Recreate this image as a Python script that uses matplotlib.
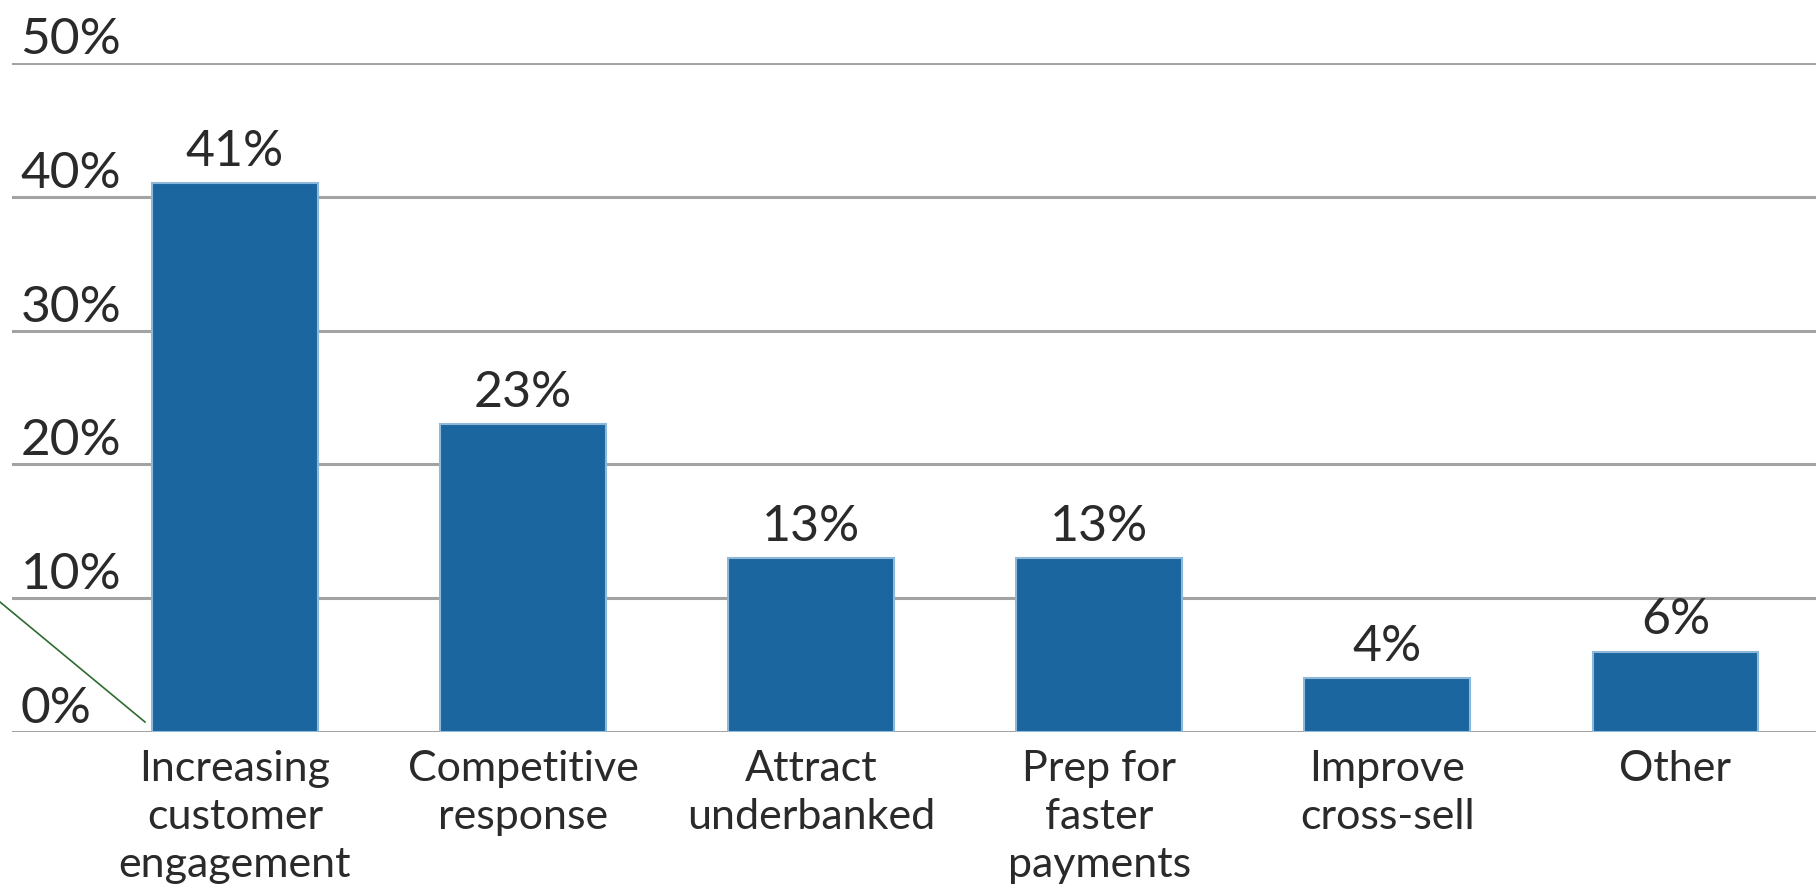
import matplotlib.pyplot as plt
from matplotlib.lines import Line2D

categories = ['Increasing\ncustomer\nengagement', 'Competitive\nresponse', 'Attract\nunderbanked',
              'Prep for\nfaster\npayments', 'Improve\ncross-sell', 'Other']
values = [41, 23, 13, 13, 4, 6]
y_ticks = [0, 10, 20, 30, 40, 50]

plt.rcParams['font.family'] = ['Lato', 'DejaVu Sans']

fig = plt.figure(figsize=(18.16, 8.89), dpi=100)
ax = fig.add_axes([0.0066, 0.1766, 0.9934, 0.7525])

x = list(range(len(categories)))

# grid lines
for t in y_ticks:
    ax.axhline(t, color='#a3a3a3', lw=2.2, zorder=1)
    ax.text(-0.745, t, f'{t}%', fontsize=37, color='#2a2a2a',
            ha='left', va='bottom', zorder=3)

bars = ax.bar(x, values, width=0.575, color='#1b669f', edgecolor='#8fb8d8',
              linewidth=1.5, zorder=2)

for xi, v in zip(x, values):
    ax.annotate(f'{v}%', (xi, v), xytext=(0, 6), textcoords='offset points',
                ha='center', va='bottom', fontsize=36, color='#2a2a2a')

for xi, lab in zip(x, categories):
    ax.annotate(lab, (xi, 0), xytext=(0, -13), textcoords='offset points',
                ha='center', va='top', fontsize=31, color='#2a2a2a', linespacing=1.32)

ax.set_xlim(-0.774, 5.488)
ax.set_ylim(0, 50)
ax.axis('off')

# stray diagonal line in lower-left corner
fig.add_artist(Line2D([0, 145 / 1816], [1 - 602 / 889, 1 - 722 / 889],
                      color='#2e6b2e', lw=1.2, transform=fig.transFigure))

fig.savefig('out.png', dpi=100)
